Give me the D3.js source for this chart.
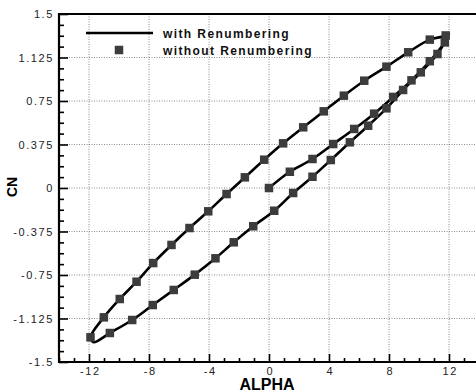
<!DOCTYPE html>
<html>
<head>
<meta charset="utf-8">
<script src="https://cdn.jsdelivr.net/npm/d3@7"></script>
<style>
  html, body { margin: 0; padding: 0; background: #fff; }
  svg { display: block; }
  text { font-family: Arial, "Liberation Sans", Helvetica, sans-serif; }
</style>
</head>
<body>
<div id="chart"></div>
<script>
// ---- data ----
const xTicks = [-12, -8, -4, 0, 4, 8, 12];
const xTickLabels = ["-12", "-8", "-4", "0", "4", "8", "12"];
const yTicks = [-1.5, -1.125, -0.75, -0.375, 0, 0.375, 0.75, 1.125, 1.5];
const yTickLabels = ["-1.5", "-1.125", "-0.75", "-0.375", "0", "0.375", "0.75", "1.125", "1.5"];

// "with Renumbering": continuous line (transient 0->12, then 12->-12, then -12->12)
const lineAlpha = [0, 1.39, 2.9, 4.28, 5.68, 7.01, 8.28, 9.5, 10.72, 11.7, 12.0,
  11.72, 10.72, 9.28, 7.83, 6.35, 4.99, 3.65, 2.28, 0.94, -0.32, -1.61, -2.83, -4.05, -5.3, -6.5, -7.72, -8.83, -9.95, -11.01, -11.9, -11.7,
  -10.61, -9.12, -7.75, -6.35, -4.95, -3.57, -2.35, -1.05, 0.35, 1.61, 2.9, 4.12, 5.39, 6.61, 7.83, 8.94, 10.12, 11.23, 11.85];
const lineCN = [0.0, 0.14, 0.25, 0.379, 0.509, 0.641, 0.785, 0.928, 1.093, 1.255, 1.33,
  1.31, 1.279, 1.17, 1.046, 0.925, 0.796, 0.661, 0.523, 0.385, 0.244, 0.092, -0.052, -0.201, -0.345, -0.491, -0.647, -0.808, -0.957, -1.115, -1.287, -1.33,
  -1.25, -1.138, -1.009, -0.879, -0.747, -0.606, -0.468, -0.33, -0.196, -0.043, 0.097, 0.241, 0.394, 0.537, 0.687, 0.845, 0.997, 1.155, 1.29];

// "without Renumbering": square markers
const markerAlpha = [0, 1.39, 2.9, 4.28, 5.68, 7.01, 8.28, 9.5, 10.72, 11.72,
  11.78, 10.72, 9.28, 7.83, 6.35, 4.99, 3.65, 2.28, 0.94, -0.32, -1.61, -2.83, -4.05, -5.3, -6.5, -7.72, -8.83, -9.95, -11.01, -11.9,
  -10.61, -9.12, -7.75, -6.35, -4.95, -3.57, -2.35, -1.05, 0.35, 1.61, 2.9, 4.12, 5.39, 6.61, 7.83, 8.94, 10.12, 11.23];
const markerCN = [0.0, 0.14, 0.25, 0.379, 0.509, 0.641, 0.785, 0.928, 1.093, 1.255,
  1.315, 1.279, 1.17, 1.046, 0.925, 0.796, 0.661, 0.523, 0.385, 0.244, 0.092, -0.052, -0.201, -0.345, -0.491, -0.647, -0.808, -0.957, -1.115, -1.287,
  -1.25, -1.138, -1.009, -0.879, -0.747, -0.606, -0.468, -0.33, -0.196, -0.043, 0.097, 0.241, 0.394, 0.537, 0.687, 0.845, 0.997, 1.155];

const seriesNames = ["with Renumbering", "without Renumbering"];
const xTitle = "ALPHA";
const yTitle = "CN";

// ---- layout ----
const W = 476, H = 391;
const svg = d3.select("#chart").append("svg").attr("width", W).attr("height", H);

const x = d3.scaleLinear().domain([-14, 16]).range([59, 509]);
const y = d3.scaleLinear().domain([-1.5, 1.5]).range([362, 14]);

const gridCol = "#8a8a8a";

// grid
svg.append("g").selectAll("line").data(xTicks).join("line")
  .attr("x1", d => x(d)).attr("x2", d => x(d))
  .attr("y1", y(1.5)).attr("y2", y(-1.5))
  .attr("stroke", gridCol).attr("stroke-width", 1).attr("stroke-dasharray", "1,1.5");
svg.append("g").selectAll("line").data(yTicks.filter(v => v > -1.5 && v < 1.5)).join("line")
  .attr("x1", x(-14)).attr("x2", W)
  .attr("y1", d => y(d)).attr("y2", d => y(d))
  .attr("stroke", gridCol).attr("stroke-width", 1).attr("stroke-dasharray", "1,1.5");

// minor ticks
const xMinor = d3.range(-14, 16.01, 1).filter(v => !xTicks.includes(v));
const yMinor = d3.range(-1.5, 1.5001, 0.09375).filter(v => Math.abs((v / 0.375) - Math.round(v / 0.375)) > 1e-6);

const xAxisMinor = d3.axisBottom(x).tickValues(xMinor).tickSize(-4).tickFormat("");
const xAxis = d3.axisBottom(x).tickValues(xTicks).tickSize(-8).tickPadding(5)
  .tickFormat((d, i) => xTickLabels[i]);
const yAxisMinor = d3.axisLeft(y).tickValues(yMinor).tickSize(-5).tickFormat("");
const yAxis = d3.axisLeft(y).tickValues(yTicks).tickSize(-9).tickPadding(6)
  .tickFormat((d, i) => yTickLabels[i]);

function styleAxis(g) {
  g.select(".domain").remove();
  g.selectAll(".tick line").attr("stroke", "#000").attr("stroke-width", 1.6);
  g.selectAll(".tick text").attr("fill", "#222").style("font-size", "11px").style("letter-spacing", "1.6px");
}

svg.append("g").attr("transform", `translate(0,${y(-1.5)})`).call(xAxisMinor).call(styleAxis);
svg.append("g").attr("transform", `translate(0,${y(-1.5)})`).call(xAxis).call(styleAxis)
  .selectAll(".tick text").attr("dx", "0.8px");
svg.append("g").attr("transform", `translate(${x(-14)},0)`).call(yAxisMinor).call(styleAxis);
svg.append("g").attr("transform", `translate(${x(-14)},0)`).call(yAxis).call(styleAxis)
  .selectAll(".tick text").attr("dx", "1px");

// frame (left, bottom, top)
svg.append("line").attr("x1", x(-14)).attr("x2", x(-14)).attr("y1", y(1.5) - 1).attr("y2", y(-1.5) + 1)
  .attr("stroke", "#000").attr("stroke-width", 2.2);
svg.append("line").attr("x1", x(-14) - 1).attr("x2", W).attr("y1", y(-1.5)).attr("y2", y(-1.5))
  .attr("stroke", "#000").attr("stroke-width", 2.2);
svg.append("line").attr("x1", x(-14) - 1).attr("x2", W).attr("y1", y(1.5)).attr("y2", y(1.5))
  .attr("stroke", "#000").attr("stroke-width", 2);

// line series
const pts = lineAlpha.map((a, i) => [a, lineCN[i]]);
svg.append("path")
  .attr("d", d3.line().x(d => x(d[0])).y(d => y(d[1])).curve(d3.curveCatmullRom.alpha(0.5))(pts))
  .attr("fill", "none").attr("stroke", "#000").attr("stroke-width", 2.6).attr("stroke-linejoin", "round");

// markers
const ms = 8.5;
const mk = markerAlpha.map((a, i) => [a, markerCN[i]]);
svg.append("g").selectAll("rect").data(mk).join("rect")
  .attr("x", d => x(d[0]) - ms / 2).attr("y", d => y(d[1]) - ms / 2)
  .attr("width", ms).attr("height", ms).attr("fill", "#3c3c3c");

// legend
const lg = svg.append("g");
lg.append("line").attr("x1", 86).attr("x2", 153).attr("y1", 33).attr("y2", 33)
  .attr("stroke", "#000").attr("stroke-width", 2.6);
lg.append("rect").attr("x", 119 - ms / 2).attr("y", 50 - ms / 2).attr("width", ms).attr("height", ms).attr("fill", "#3c3c3c");
lg.selectAll("text").data(seriesNames).join("text")
  .attr("x", 163).attr("y", (d, i) => 38 + i * 17)
  .style("font-size", "12px").style("font-weight", "bold").style("letter-spacing", "1.4px")
  .attr("fill", "#111").text(d => d);

// axis titles
svg.append("text").attr("x", 267).attr("y", 389.5).attr("text-anchor", "middle")
  .style("font-size", "16px").style("font-weight", "bold").attr("fill", "#000").text(xTitle);
svg.append("text").attr("transform", "translate(17,187) rotate(-90)").attr("text-anchor", "middle")
  .style("font-size", "14px").style("font-weight", "bold").attr("fill", "#000").text(yTitle);
</script>
</body>
</html>
